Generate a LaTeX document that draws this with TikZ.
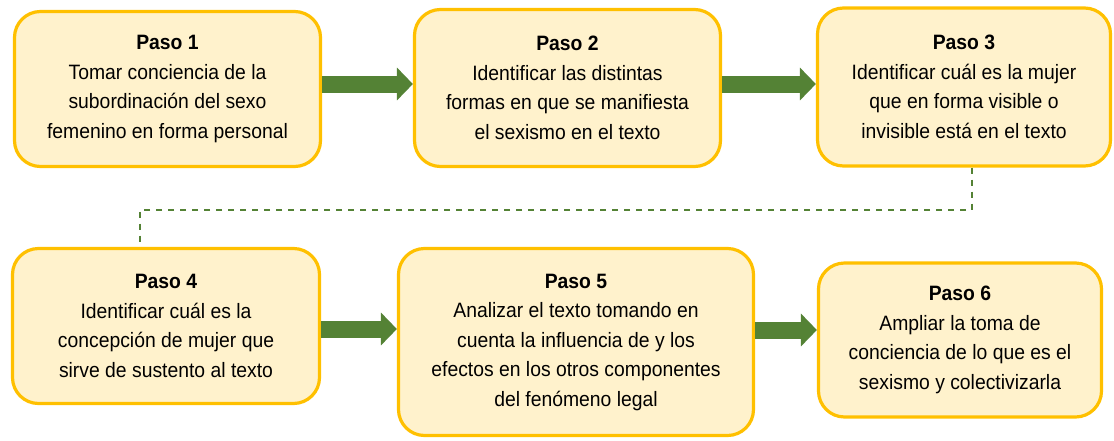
\documentclass[tikz,border=0pt]{standalone}
\usepackage{fontspec}
\setmainfont[FakeStretch=0.93]{Liberation Sans}
\usetikzlibrary{arrows.meta, positioning, calc}
\definecolor{pasofill}{HTML}{FFF2CC}
\definecolor{pasoborde}{HTML}{FFC000}
\definecolor{flechaverde}{HTML}{548235}

\begin{document}
\begin{tikzpicture}[x=1pt, y=-1pt,
  paso/.style={draw=pasoborde, fill=pasofill, line width=3.2pt, rounded corners=26pt,
    align=center, inner sep=0pt, font=\fontsize{20.8}{29.5}\selectfont},
  flecha/.style={draw=flechaverde, line width=17pt, -{Triangle[length=16pt, width=32pt]}},
  conector/.style={draw=flechaverde, line width=2pt, dash pattern=on 6pt off 6pt}]
  \useasboundingbox (0,0) rectangle (1114,440);

  % Top row
  \node[paso, minimum width=306pt, minimum height=155pt] (paso1) at (167.5,89)
    {\textbf{Paso 1}\\Tomar conciencia de la\\subordinación del sexo\\femenino en forma personal};
  \node[paso, minimum width=306pt, minimum height=157pt] (paso2) at (567.5,88)
    {\textbf{Paso 2}\\Identificar las distintas\\formas en que se manifiesta\\el sexismo en el texto};
  \node[paso, minimum width=293pt, minimum height=158pt] (paso3) at (964,87)
    {\textbf{Paso 3}\\Identificar cuál es la mujer\\que en forma visible o\\invisible está en el texto};

  % Bottom row
  \node[paso, minimum width=307pt, minimum height=155pt] (paso4) at (166,326)
    {\textbf{Paso 4}\\Identificar cuál es la\\concepción de mujer que\\sirve de sustento al texto};
  \node[paso, minimum width=355pt, minimum height=187pt] (paso5) at (576,342)
    {\textbf{Paso 5}\\Analizar el texto tomando en\\cuenta la influencia de y los\\efectos en los otros componentes\\del fenómeno legal};
  \node[paso, minimum width=283pt, minimum height=154pt] (paso6) at (960,340)
    {\textbf{Paso 6}\\Ampliar la toma de\\conciencia de lo que es el\\sexismo y colectivizarla};

  % Arrows
  \draw[flecha] ([yshift=5pt]paso1.east) -- ([yshift=5pt]paso1.east -| paso2.west);
  \draw[flecha] ([yshift=4pt]paso2.east) -- ([yshift=4pt]paso2.east -| paso3.west);
  \draw[flecha] ([yshift=-3pt]paso4.east) -- ([yshift=-3pt]paso4.east -| paso5.west);
  \draw[flecha] ([yshift=12pt]paso5.east) -- ([yshift=12pt]paso5.east -| paso6.west);

  % Dashed link from Paso 3 to Paso 4
  \draw[conector] ([xshift=8pt]paso3.south) -- ++(0,42) -| ([xshift=-26pt]paso4.north);
\end{tikzpicture}
\end{document}
